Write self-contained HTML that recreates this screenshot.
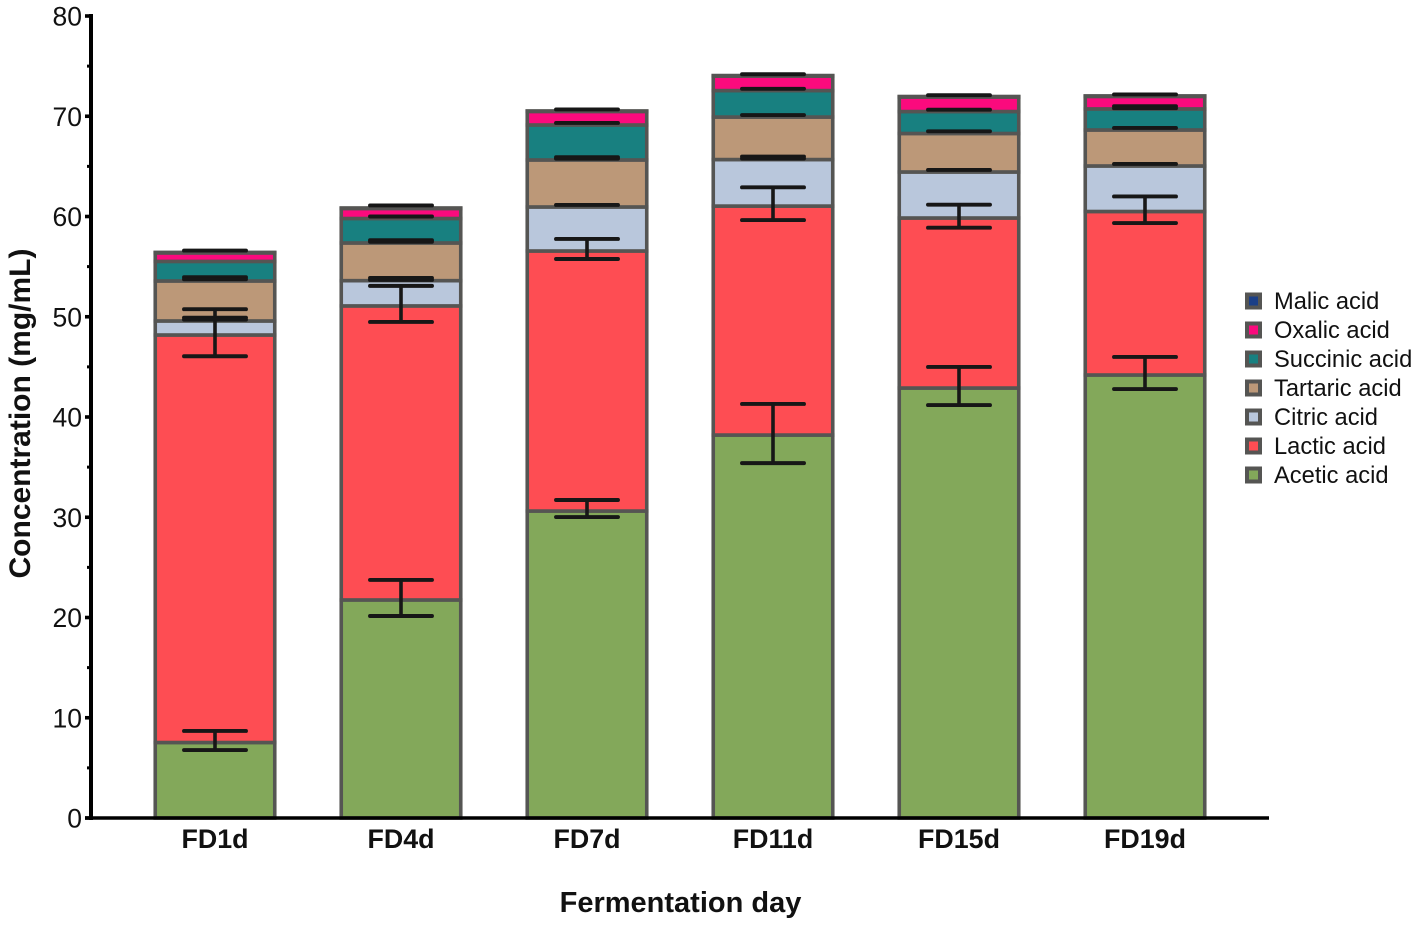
<!DOCTYPE html>
<html lang="en">
<head>
<meta charset="utf-8">
<title>Organic acid concentration by fermentation day</title>
<style>
  html, body { margin: 0; padding: 0; background: #fff; }
  body { width: 1418px; height: 926px; overflow: hidden; }
  svg { display: block; font-family: "Liberation Sans", Arial, sans-serif; }
</style>
</head>
<body>
<svg id="chart" xmlns="http://www.w3.org/2000/svg" width="1418" height="926" viewBox="0 0 1418 926">
  <rect x="0" y="0" width="1418" height="926" fill="#ffffff"/>
  <g id="bars"></g>
  <g id="errors"></g>
  <g id="axes"></g>
  <g id="legend"></g>
  <text transform="translate(30,413.5) rotate(-90)" text-anchor="middle" font-size="30" font-weight="700" fill="#111">Concentration (mg/mL)</text>
  <text x="680.5" y="912" text-anchor="middle" font-size="29" font-weight="700" fill="#111">Fermentation day</text>
</svg>
<script>
// Chart data
const categories = ['FD1d', 'FD4d', 'FD7d', 'FD11d', 'FD15d', 'FD19d'];
const yTicks = [0, 10, 20, 30, 40, 50, 60, 70, 80];
const yMinorTicks = [5, 15, 25, 35, 45, 55, 65, 75];

const acetic = [7.53, 21.75, 30.62, 38.2, 42.89, 44.19];
const lactic = [40.65, 29.33, 25.94, 22.84, 16.96, 16.31];
const citric = [1.4, 2.52, 4.39, 4.64, 4.59, 4.54];
const tartaric = [3.99, 3.76, 4.69, 4.24, 3.84, 3.59];
const succinic = [1.95, 2.44, 3.49, 2.64, 2.19, 2.1];
const oxalic = [0.85, 1.0, 1.35, 1.45, 1.45, 1.25];
const malic = [0.05, 0.05, 0.05, 0.05, 0.05, 0.05];

// Error offsets from the top of each stacked segment (a negative "down" cap
// sits just above the segment top, which reads as one thick cap in the picture)
const aceticErrUp = [1.15, 2.0, 1.1, 3.1, 2.1, 1.8];
const aceticErrDown = [0.75, 1.6, 0.6, 2.8, 1.7, 1.4];
const lacticErrUp = [2.57, 2.0, 1.2, 1.87, 1.33, 1.5];
const lacticErrDown = [2.12, 1.6, 0.8, 1.4, 0.97, 1.15];
const citricErrUp = [0.33, 0.27, 0.2, 0.3, 0.2, 0.2];
const citricErrDown = [-0.13, -0.07, null, -0.1, null, null];
const tartaricErrUp = [0.37, 0.28, 0.27, 0.2, 0.22, 0.2];
const tartaricErrDown = [-0.17, -0.12, -0.13, null, null, null];
const succinicErrUp = [null, 0.2, 0.2, 0.18, 0.18, 0.27];
const succinicErrDown = [null, null, null, null, null, -0.07];
const malicErrUp = [0.18, 0.25, 0.15, 0.13, 0.13, 0.15];

const seriesNames = ['Acetic acid', 'Lactic acid', 'Citric acid', 'Tartaric acid', 'Succinic acid', 'Oxalic acid', 'Malic acid'];
const seriesColors = ['#83a85a', '#fe4d53', '#b9c7dc', '#bc9878', '#188080', '#fb0a7d', '#1b3f87'];
const legendOrder = ['Malic acid', 'Oxalic acid', 'Succinic acid', 'Tartaric acid', 'Citric acid', 'Lactic acid', 'Acetic acid'];

const seriesValues = [acetic, lactic, citric, tartaric, succinic, oxalic, malic];
const seriesErrUp = [aceticErrUp, lacticErrUp, citricErrUp, tartaricErrUp, succinicErrUp, null, malicErrUp];
const seriesErrDown = [aceticErrDown, lacticErrDown, citricErrDown, tartaricErrDown, succinicErrDown, null, null];

// Axis functions
const plotBottom = 818, pxPerUnit = 10.025;
const firstBarX = 215, bandWidth = 186, barWidth = 119.5, capWidth = 62;
function yPos(v) { return plotBottom - v * pxPerUnit; }
function xPos(i) { return firstBarX + bandWidth * i; }

const NS = 'http://www.w3.org/2000/svg';
function make(tag, parent, attrs) {
  const el = document.createElementNS(NS, tag);
  for (const k in attrs) el.setAttribute(k, attrs[k]);
  parent.appendChild(el);
  return el;
}
function slug(s) { return s.toLowerCase().replace(/[^a-z0-9]+/g, '-'); }

const barsG = document.getElementById('bars');
const errorsG = document.getElementById('errors');
const axesG = document.getElementById('axes');
const legendG = document.getElementById('legend');
const stroke = '#555553';

// Stacked bars and error bars
categories.forEach(function (cat, i) {
  let base = 0;
  seriesValues.forEach(function (vals, s) {
    const top = base + vals[i];
    const rect = make('rect', barsG, {
      x: xPos(i) - barWidth / 2,
      y: yPos(top),
      width: barWidth,
      height: Math.max(0, yPos(base) - yPos(top)),
      fill: seriesColors[s],
      stroke: stroke,
      'stroke-width': 3.6
    });
    
    
    base = top;
  });
});

categories.forEach(function (cat, i) {
  let base = 0;
  seriesValues.forEach(function (vals, s) {
    const top = base + vals[i];
    base = top;
    const upArr = seriesErrUp[s];
    if (!upArr || upArr[i] === null) return;
    const downArr = seriesErrDown[s];
    const hi = top + upArr[i];
    const lo = (downArr && downArr[i] !== null) ? top - downArr[i] : null;
    const group = make('g', errorsG, { stroke: '#171717', 'stroke-linecap': 'round', fill: 'none' });
    
    
    const x = xPos(i);
    make('line', group, { x1: x - capWidth / 2, x2: x + capWidth / 2, y1: yPos(hi), y2: yPos(hi), 'stroke-width': 3.9 });
    if (lo !== null) {
      make('line', group, { x1: x, x2: x, y1: yPos(hi), y2: yPos(lo), 'stroke-width': 3.6, 'stroke-linecap': 'butt' });
      make('line', group, { x1: x - capWidth / 2, x2: x + capWidth / 2, y1: yPos(lo), y2: yPos(lo), 'stroke-width': 3.9 });
    }
  });
});

// Axes
const yAxisLine = make('line', axesG, { x1: 91, x2: 91, y1: yPos(80) - 2, y2: yPos(0) + 2, stroke: '#000', 'stroke-width': 4 });


const xAxisLine = make('line', axesG, { x1: 85, x2: 1269, y1: yPos(0), y2: yPos(0), stroke: '#000', 'stroke-width': 3.6 });



yTicks.forEach(function (t) {
  const tick = make('line', axesG, { x1: 85, x2: 91, y1: yPos(t), y2: yPos(t), stroke: '#000', 'stroke-width': 3.6 });
  
  
  const label = make('text', axesG, { x: 82, y: yPos(t) + 9.5, 'text-anchor': 'end', 'font-size': 26.5, fill: '#111' });
  
  
  label.textContent = String(t);
});
yMinorTicks.forEach(function (t) {
  const tick = make('line', axesG, { x1: 87, x2: 91, y1: yPos(t), y2: yPos(t), stroke: '#000', 'stroke-width': 3 });
  
  
});
categories.forEach(function (cat, i) {
  const label = make('text', axesG, { x: xPos(i), y: 848, 'text-anchor': 'middle', 'font-size': 26.8, 'font-weight': 700, fill: '#111' });
  
  
  label.textContent = cat;
});

// Legend
const legendStartY = 301, legendStep = 29;
legendOrder.forEach(function (name, k) {
  const s = seriesNames.indexOf(name);
  const cy = legendStartY + legendStep * k;
  const entry = make('g', legendG, {});
  
  
  const swatch = make('rect', entry, { x: 1247, y: cy - 6.5, width: 13, height: 13, fill: seriesColors[s], stroke: stroke, 'stroke-width': 4 });
  
  
  const label = make('text', entry, { x: 1274, y: cy + 8, 'font-size': 23.7, fill: '#111' });
  
  
  label.textContent = name;
});
</script>
</body>
</html>
